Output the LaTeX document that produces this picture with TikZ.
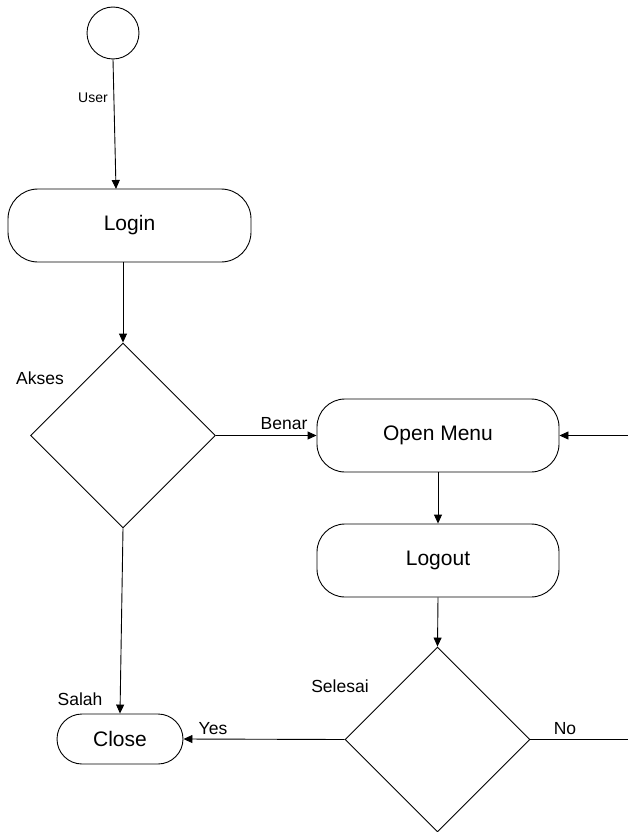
\documentclass[tikz,border=0pt]{standalone}
\usepackage{fontspec}
\setmainfont{Liberation Sans}
\usetikzlibrary{shapes.geometric,arrows.meta}
\tikzset{
  flowline/.style={line width=0.9pt, draw=black},
  arr/.style={flowline, -{Triangle[length=9pt,width=8pt]}},
  roundbox/.style={draw, line width=0.9pt, rectangle, rounded corners=#1,
    inner sep=0pt, font=\fontsize{21}{24}\selectfont},
  decision/.style={draw, line width=0.9pt, diamond, aspect=1, inner sep=0pt,
    minimum width=185pt, minimum height=185pt},
  lbl/.style={inner sep=0pt, font=\fontsize{17.5}{20}\selectfont},
}
\begin{document}
\begin{tikzpicture}[x=1pt, y=-1pt]
  \useasboundingbox (0,0) rectangle (628,832);
  \clip (0,0) rectangle (628,832);

  % start point
  \node[draw, line width=0.9pt, circle, minimum size=52pt, inner sep=0pt] (start) at (113,33) {};

  % activities
  \node[roundbox=30pt, minimum width=243pt, minimum height=73pt] (login) at (129.5,225.5) {Login};
  \node[decision] (akses) at (123,435.5) {};
  \node[roundbox=28pt, minimum width=242pt, minimum height=73pt] (menu) at (438,435.5) {Open Menu};
  \node[roundbox=28pt, minimum width=242pt, minimum height=73pt] (logout) at (438,560.5) {Logout};
  \node[decision] (selesai) at (437.5,739.5) {};
  \node[roundbox=25pt, minimum width=126pt, minimum height=50pt] (close) at (120,739) {Close};

  % loose ends on the right edge
  \coordinate (uin) at (116,189);
  \coordinate (rin) at (628,435.5);
  \coordinate (rout) at (628,739.5);

  % connectors
  \draw[arr] (start.south) -- (uin);
  \draw[arr] (login.south -| akses.north) -- (akses.north);
  \draw[arr] (akses.east) -- (menu.west);
  \draw[arr] (rin) -- (menu.east);
  \draw[arr] (menu.south) -- (logout.north);
  \draw[arr] (logout.south) -- (selesai.north);
  \draw[arr] (selesai.west) -- (close.east);
  \draw[flowline] (selesai.east) -- (rout);
  \draw[arr] (akses.south) -- (close.north);

  % labels
  \node[inner sep=0pt, font=\fontsize{14}{16}\selectfont] (luser) at (93,98) {User};
  \node[lbl] (lakses) at (40,378) {Akses};
  \node[lbl] (lbenar) at (284,424) {Benar};
  \node[lbl] (lselesai) at (340,686) {Selesai};
  \node[lbl] (lsalah) at (80,699) {Salah};
  \node[lbl] (lyes) at (213,729) {Yes};
  \node[lbl] (lno) at (565,729) {No};
\end{tikzpicture}
\end{document}
